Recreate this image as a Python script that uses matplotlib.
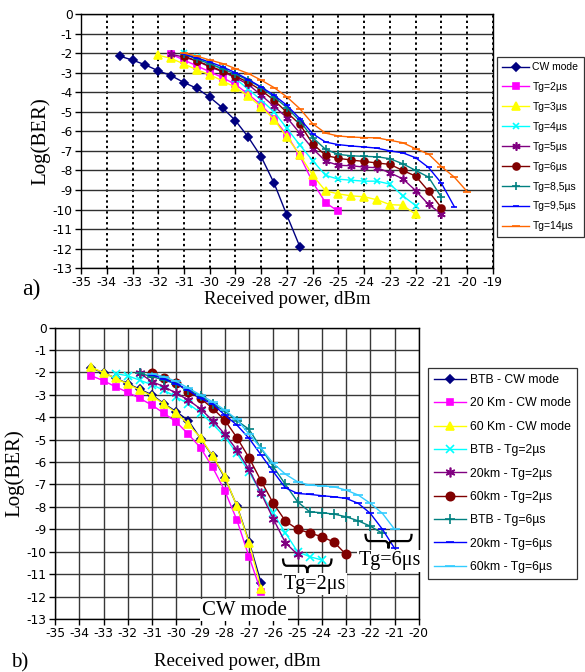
import numpy as np
import matplotlib
matplotlib.use("Agg")
import matplotlib.pyplot as plt
from matplotlib.path import Path
from matplotlib.patches import PathPatch

plt.rcParams['font.family'] = ['DejaVu Sans']
plt.rcParams['axes.unicode_minus'] = False


def steps(a, b):
    # measurement points are every 0.5 dBm
    return np.arange(a, b + 0.01, 0.5)


# ---------------- a) data ----------------
a_labels = ["CW mode", "Tg=2µs", "Tg=3µs", "Tg=4µs", "Tg=5µs", "Tg=6µs",
            "Tg=8,5µs", "Tg=9,5µs", "Tg=14µs"]
a_x = [steps(-33.5, -26.5), steps(-31.5, -25), steps(-32, -22), steps(-31, -22),
       steps(-31.5, -21), steps(-31, -21), steps(-31, -21), steps(-31, -20.5),
       steps(-31, -20)]
a_cw = [-2.15, -2.35, -2.6, -2.9, -3.15, -3.5, -3.8, -4.25, -4.8, -5.45, -6.3,
        -7.3, -8.65, -10.3, -11.9]
a_tg2 = [-2.05, -2.35, -2.65, -2.95, -3.25, -3.6, -4.1, -4.65, -5.35, -6.2,
         -7.25, -8.6, -9.65, -10.1]
a_tg3 = [-2.1, -2.27, -2.55, -2.85, -3.1, -3.42, -3.75, -4.2, -4.75, -5.4, -6.3,
         -7.2, -8.25, -9.05, -9.2, -9.3, -9.35, -9.5, -9.75, -9.78, -10.25]
a_tg4 = [-2.0, -2.2, -2.5, -2.85, -3.3, -3.85, -4.4, -5.0, -5.85, -6.7, -7.5,
         -8.25, -8.45, -8.5, -8.55, -8.55, -8.7, -9.3, -9.8]
a_tg5 = [-2.05, -2.2, -2.4, -2.7, -2.95, -3.25, -3.6, -4.15, -4.72, -5.3, -6.09,
         -6.89, -7.52, -7.74, -7.76, -7.83, -7.86, -8.12, -8.43, -9.03, -9.74,
         -10.22]
a_tg6 = [-2.15, -2.4, -2.65, -2.92, -3.18, -3.49, -3.9, -4.41, -5.03, -5.64,
         -6.63, -7.23, -7.38, -7.47, -7.54, -7.62, -7.69, -8.0, -8.29, -9.06,
         -9.91]
a_tg85 = [-2.05, -2.3, -2.55, -2.79, -3.08, -3.38, -3.76, -4.24, -4.79, -5.47,
          -6.32, -6.92, -7.18, -7.25, -7.28, -7.3, -7.4, -7.66, -8.0, -8.34,
          -9.37]
a_tg95 = [-2.05, -2.25, -2.45, -2.7, -3.0, -3.35, -3.73, -4.15, -4.67, -5.35,
          -6.12, -6.55, -6.68, -6.75, -6.8, -6.86, -7.0, -7.1, -7.35, -7.85,
          -8.65, -9.85]
a_tg14 = [-2.0, -2.15, -2.35, -2.53, -2.79, -3.04, -3.38, -3.76, -4.24, -4.84,
          -5.61, -6.09, -6.24, -6.29, -6.32, -6.33, -6.46, -6.58, -6.89, -7.16,
          -7.8, -8.34, -9.08]
a_y = [a_cw, a_tg2, a_tg3, a_tg4, a_tg5, a_tg6, a_tg85, a_tg95, a_tg14]

# ---------------- b) data ----------------
b_labels = ["BTB - CW mode", "20 Km - CW mode", "60 Km - CW mode",
            "BTB - Tg=2µs", "20km - Tg=2µs", "60km - Tg=2µs",
            "BTB - Tg=6µs", "20km - Tg=6µs", "60km - Tg=6µs"]
b_x = [steps(-33.5, -26.5), steps(-33.5, -26.5), steps(-33.5, -26.5),
       steps(-32.5, -24), steps(-31.5, -25), steps(-31, -23),
       steps(-31.5, -21.5), steps(-31, -21), steps(-31, -21)]
b_btb_cw = [-1.8, -2.02, -2.25, -2.5, -2.75, -3.0, -3.4, -3.75, -4.15, -4.95,
            -5.75, -6.7, -7.95, -9.55, -11.4]
b_20_cw = [-2.15, -2.37, -2.64, -2.89, -3.16, -3.46, -3.83, -4.21, -4.76, -5.36,
           -6.24, -7.28, -8.59, -10.23, -11.8]
b_60_cw = [-1.77, -2.01, -2.26, -2.52, -2.79, -3.04, -3.43, -3.8, -4.32, -4.91,
           -5.73, -6.65, -7.97, -9.6, -11.66]
b_btb_tg2 = [-2.05, -2.15, -2.35, -2.55, -2.8, -3.1, -3.4, -3.8, -4.3, -4.87,
             -5.61, -6.43, -7.4, -8.29, -9.16, -10.0, -10.22, -10.37]
b_20_tg2 = [-2.04, -2.41, -2.64, -2.93, -3.23, -3.63, -4.15, -4.75, -5.46, -6.33,
            -7.4, -8.54, -9.6, -10.12]
b_60_tg2 = [-2.01, -2.26, -2.49, -2.86, -3.16, -3.6, -4.13, -4.91, -5.81, -6.85,
            -7.84, -8.63, -9.0, -9.16, -9.33, -9.57, -10.12]
b_btb_tg6 = [-2.04, -2.19, -2.34, -2.52, -2.79, -3.05, -3.41, -3.72, -4.15,
             -4.54, -5.39, -6.21, -7.0, -7.77, -8.22, -8.26, -8.32, -8.44, -8.62,
             -8.86, -9.18]
b_20_tg6 = [-2.1, -2.3, -2.5, -2.8, -3.16, -3.41, -3.9, -4.35, -4.94, -5.69,
            -6.43, -7.15, -7.4, -7.44, -7.5, -7.55, -7.62, -7.84, -8.29, -9.0,
            -9.85]
b_60_tg6 = [-2.05, -2.2, -2.4, -2.7, -3.01, -3.31, -3.68, -4.1, -4.75, -5.39,
            -6.06, -6.54, -6.88, -7.03, -7.06, -7.1, -7.25, -7.47, -7.84, -8.29,
            -9.0]
b_y = [b_btb_cw, b_20_cw, b_60_cw, b_btb_tg2, b_20_tg2, b_60_tg2,
       b_btb_tg6, b_20_tg6, b_60_tg6]

# style per series: colour, marker, marker size
a_style = [("#000080", "D", 4), ("#FF00FF", "s", 5), ("#FFFF00", "^", 6),
           ("#00FFFF", "x", 5), ("#800080", (6, 2, 0), 6), ("#800000", "o", 5),
           ("#008080", "+", 6), ("#0000FF", "_", 5), ("#FF6600", "_", 6)]
b_style = [("#000080", "D", 4), ("#FF00FF", "s", 5), ("#FFFF00", "^", 6),
           ("#00FFFF", "x", 6), ("#800080", (6, 2, 0), 7), ("#800000", "o", 6),
           ("#008080", "+", 7), ("#0000FF", "_", 6), ("#33CCFF", "_", 7)]

serif = ['Liberation Serif', 'DejaVu Serif']
sans = ['Liberation Sans', 'DejaVu Sans']

fig = plt.figure(figsize=(5.85, 6.72), dpi=100)


def draw_series(ax, xs, ys, styles, labels):
    for x, y, (c, m, ms), lab in zip(xs, ys, styles, labels):
        ax.plot(x, y, color=c, lw=1, marker=m, ms=ms, mfc=c, mec=c, mew=1.2,
                label=lab)


def setup_axis(ax, xmin, xmax):
    ax.set_xlim(xmin, xmax)
    ax.set_ylim(-13, 0)
    ax.set_xticks(np.arange(xmin, xmax + 1))
    ax.set_yticks(np.arange(-13, 1))
    ax.tick_params(direction='out', length=4, width=1, labelsize=8.8, pad=2)
    for s in ax.spines.values():
        s.set_color('black')
        s.set_linewidth(1)
    ax.set_axisbelow(True)
    ax.set_ylabel("Log(BER)", family=serif, fontsize=15, labelpad=2)


def add_legend(ax, anchor, size, spacing):
    leg = ax.legend(loc='upper left', bbox_to_anchor=anchor,
                    bbox_transform=fig.transFigure, frameon=True,
                    fancybox=False, edgecolor='black', handlelength=2.6,
                    labelspacing=spacing, borderpad=0.5, handletextpad=0.3,
                    borderaxespad=0, prop={'family': sans, 'size': size})
    leg.get_frame().set_linewidth(0.9)
    return leg


# ---------------- a) ----------------
ax1 = fig.add_axes([0.1385, 0.601, 0.704, 0.378])
setup_axis(ax1, -35, -19)
ax1.grid(axis='y', color='#303030', lw=1, ls='-')
ax1.grid(axis='x', color='black', lw=1.4, ls=(0, (1.2, 1.6)))
draw_series(ax1, a_x, a_y, a_style, a_labels)
ax1.set_xlabel("Received power, dBm", family=serif, fontsize=13.5, labelpad=1)
fig.text(0.037, 0.561, "a)", family=serif, fontsize=17, va='baseline')
add_legend(ax1, (0.8496, 0.9152), 7.5, 0.95)

# ---------------- b) ----------------
ax2 = fig.add_axes([0.094, 0.0789, 0.622, 0.4336])
setup_axis(ax2, -35, -20)
ax2.grid(color='#383838', lw=1, ls='-')
draw_series(ax2, b_x, b_y, b_style, b_labels)
ax2.set_xlabel("Received power, dBm", family=serif, fontsize=13.5, labelpad=9)
fig.text(0.018, 0.0, "b)", family=serif, fontsize=15, va='bottom')
add_legend(ax2, (0.7316, 0.4524), 8.8, 0.93)


def brace(ax, x0, x1, y, h, r):
    xm = (x0 + x1) / 2
    yb = y - h / 2
    verts = [(x0, y), (x0, yb), (x0 + r, yb), (xm - r, yb), (xm, yb), (xm, y - h),
             (xm, yb), (xm + r, yb), (x1 - r, yb), (x1, yb), (x1, y)]
    codes = [Path.MOVETO, Path.CURVE3, Path.CURVE3, Path.LINETO, Path.CURVE3,
             Path.CURVE3, Path.CURVE3, Path.CURVE3, Path.LINETO, Path.CURVE3,
             Path.CURVE3]
    ax.add_patch(PathPatch(Path(verts, codes), fc='none', ec='black', lw=1.6,
                           zorder=6))


box = dict(fc='white', ec='none', pad=1)
ax2.text(-24.3, -11.45, "Tg=2μs", family=serif, fontsize=14.5, ha='center',
         va='center', bbox=box, zorder=5)
brace(ax2, -25.6, -23.6, -10.3, 0.65, 0.15)
ax2.text(-21.2, -10.4, "Tg=6μs", family=serif, fontsize=14.5, ha='center',
         va='center', bbox=box, zorder=5)
brace(ax2, -22.2, -20.3, -9.2, 0.65, 0.15)
ax2.text(-28.95, -12.6, "CW mode", family=serif, fontsize=15, ha='left',
         va='center', bbox=box, zorder=5)

fig.savefig("out.png", dpi=100)
